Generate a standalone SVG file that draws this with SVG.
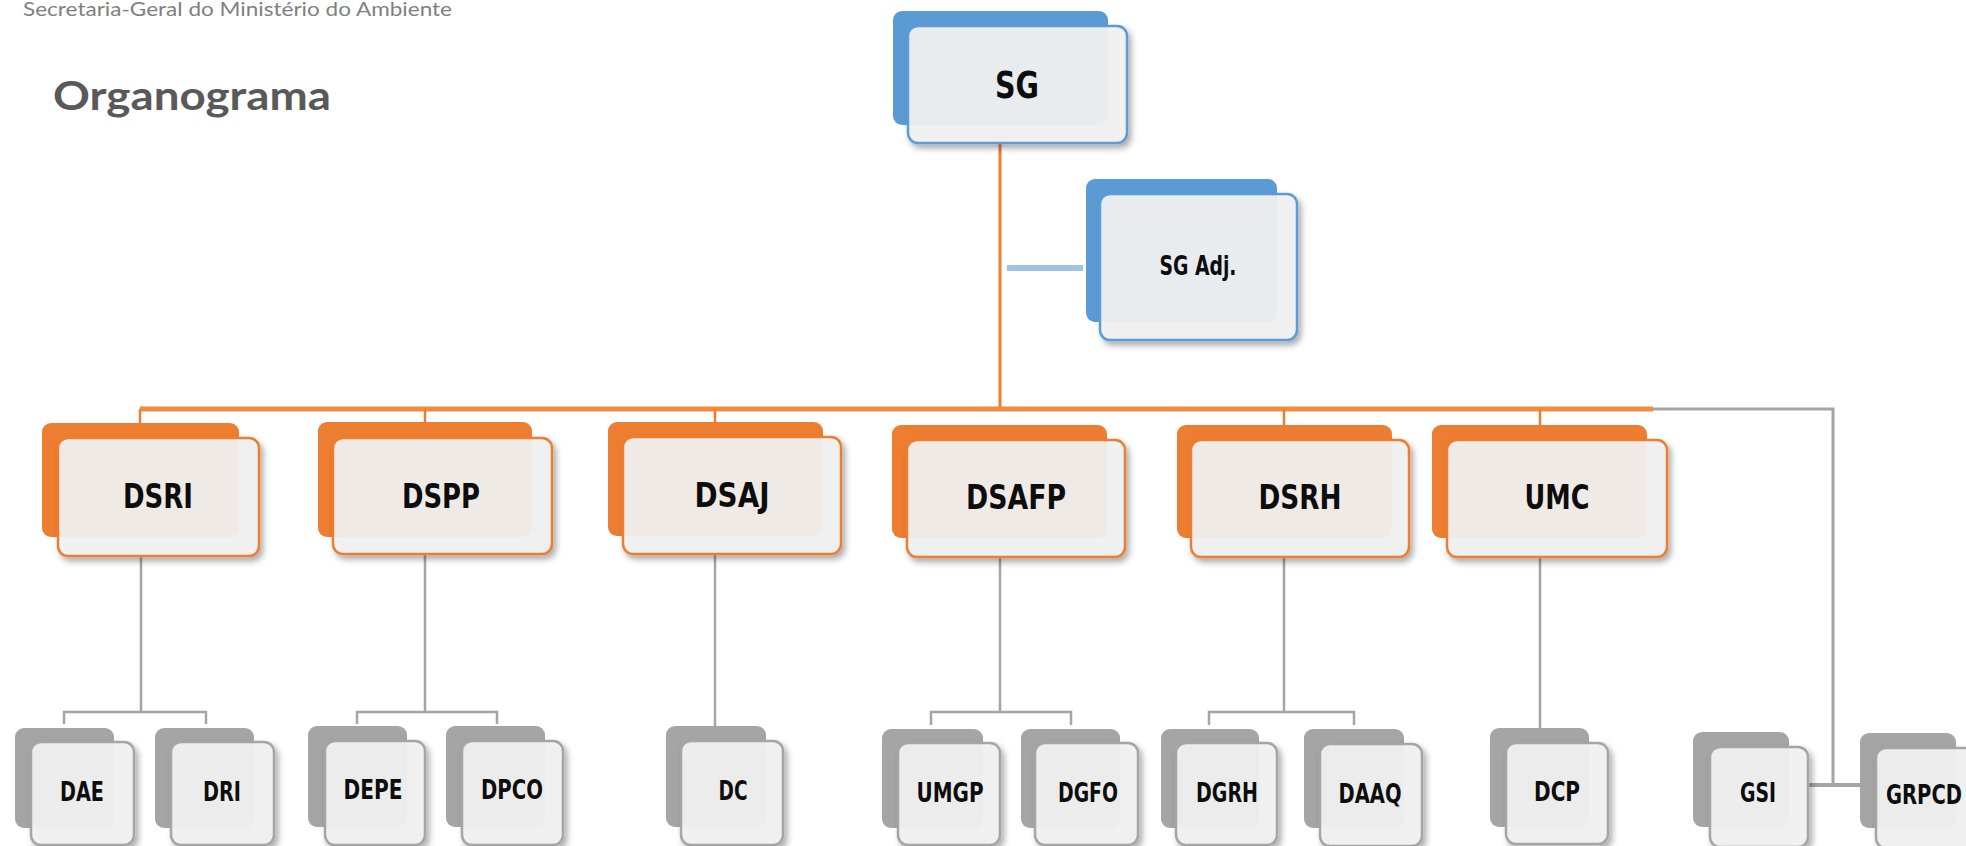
<svg xmlns="http://www.w3.org/2000/svg" width="1966" height="846" viewBox="0 0 1966 846">
<defs>
<filter id="sh" x="-20%" y="-20%" width="150%" height="150%">
<feDropShadow dx="3" dy="4" stdDeviation="3" flood-color="#000" flood-opacity="0.35"/>
</filter>
</defs>
<style>
.bk-b{fill:#5B9BD5}
.bk-o{fill:#ED7D31}
.bk-g{fill:#A5A5A5}
.fr{fill:#F2F2F2;fill-opacity:0.93;stroke-width:2.5;filter:url(#sh)}
.fr-b{stroke:#5B9BD5}
.fr-o{stroke:#ED7D31}
.fr-g{stroke:#A5A5A5}
.lbl{font-family:"DejaVu Sans Condensed","DejaVu Sans",sans-serif;font-stretch:condensed;font-weight:bold;fill:#0D0D0D;text-anchor:middle}
.l1{font-size:38px}
.l2{font-size:34px}
.l3{font-size:26px}
.ln-o{stroke:#ED7D31;fill:none}
.ln-g{stroke:#A5A5A5;fill:none}
.hdr{font-family:Lato,"Open Sans",sans-serif;fill:#7F7F7F;font-size:20px}
.ttl{font-family:Lato,"Open Sans",sans-serif;fill:#595959;font-size:40px;font-weight:bold}
</style>
<rect width="1966" height="846" fill="#FFFFFF"/>
<text class="hdr" x="23" y="16" textLength="429" lengthAdjust="spacingAndGlyphs">Secretaria-Geral do Ministério do Ambiente</text>
<text class="ttl" x="53" y="110" textLength="278" lengthAdjust="spacingAndGlyphs">Organograma</text>

<g id="connectors">
<line class="ln-o" x1="1000" y1="140" x2="1000" y2="409" stroke-width="3"/>
<line x1="1007" y1="268" x2="1083" y2="268" stroke="#9DC3E6" stroke-width="6"/>
<line x1="140" y1="409" x2="1653" y2="409" stroke="#F08C3C" stroke-width="5"/>
<path class="ln-o" stroke-width="2.5" d="M140 409V424M425 409V424M715 409V424M1284 409V426M1540 409V426"/>
<path class="ln-g" stroke-width="3" d="M1653 409H1833V785"/>
<line class="ln-g" x1="1806" y1="785" x2="1878" y2="785" stroke-width="4"/>
<path class="ln-g" stroke-width="2.5" d="M141 556V712M64 724V712H206V724"/>
<path class="ln-g" stroke-width="2.5" d="M425 554V712M357 724V712H497V724"/>
<path class="ln-g" stroke-width="2.5" d="M715 554V726"/>
<path class="ln-g" stroke-width="2.5" d="M1000 557V712M931 725V712H1071V725"/>
<path class="ln-g" stroke-width="2.5" d="M1284 557V712M1209 725V712H1354V725"/>
<path class="ln-g" stroke-width="2.5" d="M1540 557V728"/>
</g>

<g id="node-SG">
<rect class="bk-b" x="893" y="11" width="215" height="114" rx="9"/>
<rect class="fr fr-b" x="908" y="26" width="219" height="117" rx="10"/>
<text class="lbl l1" x="1017" y="98" textLength="44" lengthAdjust="spacingAndGlyphs">SG</text>
</g>
<g id="node-SGAdj">
<rect class="bk-b" x="1086" y="179" width="191" height="143" rx="9"/>
<rect class="fr fr-b" x="1100" y="194" width="197" height="146" rx="10"/>
<text class="lbl l3" x="1198" y="275" textLength="77" lengthAdjust="spacingAndGlyphs">SG Adj.</text>
</g>

<g id="node-DSRI">
<rect class="bk-o" x="42" y="423" width="197" height="114" rx="9"/>
<rect class="fr fr-o" x="58" y="438" width="201" height="118" rx="10"/>
<text class="lbl l2" x="158" y="508" textLength="70" lengthAdjust="spacingAndGlyphs">DSRI</text>
</g>
<g id="node-DSPP">
<rect class="bk-o" x="318" y="422" width="214" height="115" rx="9"/>
<rect class="fr fr-o" x="333" y="438" width="219" height="116" rx="10"/>
<text class="lbl l2" x="441" y="508" textLength="78" lengthAdjust="spacingAndGlyphs">DSPP</text>
</g>
<g id="node-DSAJ">
<rect class="bk-o" x="608" y="422" width="215" height="114" rx="9"/>
<rect class="fr fr-o" x="623" y="437" width="218" height="117" rx="10"/>
<text class="lbl l2" x="732" y="507" textLength="75" lengthAdjust="spacingAndGlyphs">DSAJ</text>
</g>
<g id="node-DSAFP">
<rect class="bk-o" x="892" y="425" width="215" height="113" rx="9"/>
<rect class="fr fr-o" x="907" y="440" width="218" height="117" rx="10"/>
<text class="lbl l2" x="1016" y="509" textLength="100" lengthAdjust="spacingAndGlyphs">DSAFP</text>
</g>
<g id="node-DSRH">
<rect class="bk-o" x="1177" y="425" width="215" height="113" rx="9"/>
<rect class="fr fr-o" x="1191" y="440" width="218" height="117" rx="10"/>
<text class="lbl l2" x="1300" y="509" textLength="83" lengthAdjust="spacingAndGlyphs">DSRH</text>
</g>
<g id="node-UMC">
<rect class="bk-o" x="1432" y="425" width="215" height="113" rx="9"/>
<rect class="fr fr-o" x="1447" y="440" width="220" height="117" rx="10"/>
<text class="lbl l2" x="1557" y="509" textLength="65" lengthAdjust="spacingAndGlyphs">UMC</text>
</g>

<g id="node-DAE">
<rect class="bk-g" x="15" y="728" width="99" height="100" rx="9"/>
<rect class="fr fr-g" x="31" y="742" width="103" height="103" rx="10"/>
<text class="lbl l3" x="82" y="801" textLength="44" lengthAdjust="spacingAndGlyphs">DAE</text>
</g>
<g id="node-DRI">
<rect class="bk-g" x="155" y="728" width="99" height="100" rx="9"/>
<rect class="fr fr-g" x="171" y="742" width="103" height="103" rx="10"/>
<text class="lbl l3" x="222" y="801" textLength="38" lengthAdjust="spacingAndGlyphs">DRI</text>
</g>
<g id="node-DEPE">
<rect class="bk-g" x="308" y="726" width="99" height="101" rx="9"/>
<rect class="fr fr-g" x="325" y="741" width="100" height="104" rx="10"/>
<text class="lbl l3" x="373" y="799" textLength="59" lengthAdjust="spacingAndGlyphs">DEPE</text>
</g>
<g id="node-DPCO">
<rect class="bk-g" x="446" y="726" width="99" height="101" rx="9"/>
<rect class="fr fr-g" x="462" y="741" width="101" height="104" rx="10"/>
<text class="lbl l3" x="512" y="799" textLength="62" lengthAdjust="spacingAndGlyphs">DPCO</text>
</g>
<g id="node-DC">
<rect class="bk-g" x="666" y="726" width="100" height="101" rx="9"/>
<rect class="fr fr-g" x="681" y="741" width="102" height="104" rx="10"/>
<text class="lbl l3" x="733" y="800" textLength="29" lengthAdjust="spacingAndGlyphs">DC</text>
</g>
<g id="node-UMGP">
<rect class="bk-g" x="882" y="729" width="101" height="99" rx="9"/>
<rect class="fr fr-g" x="898" y="743" width="102" height="102" rx="10"/>
<text class="lbl l3" x="950" y="802" textLength="67" lengthAdjust="spacingAndGlyphs">UMGP</text>
</g>
<g id="node-DGFO">
<rect class="bk-g" x="1021" y="729" width="99" height="99" rx="9"/>
<rect class="fr fr-g" x="1035" y="743" width="103" height="102" rx="10"/>
<text class="lbl l3" x="1088" y="802" textLength="60" lengthAdjust="spacingAndGlyphs">DGFO</text>
</g>
<g id="node-DGRH">
<rect class="bk-g" x="1161" y="729" width="98" height="99" rx="9"/>
<rect class="fr fr-g" x="1176" y="743" width="101" height="102" rx="10"/>
<text class="lbl l3" x="1227" y="802" textLength="62" lengthAdjust="spacingAndGlyphs">DGRH</text>
</g>
<g id="node-DAAQ">
<rect class="bk-g" x="1304" y="729" width="100" height="99" rx="9"/>
<rect class="fr fr-g" x="1320" y="744" width="102" height="102" rx="10"/>
<text class="lbl l3" x="1370" y="803" textLength="63" lengthAdjust="spacingAndGlyphs">DAAQ</text>
</g>
<g id="node-DCP">
<rect class="bk-g" x="1490" y="728" width="99" height="99" rx="9"/>
<rect class="fr fr-g" x="1506" y="743" width="102" height="101" rx="10"/>
<text class="lbl l3" x="1557" y="801" textLength="46" lengthAdjust="spacingAndGlyphs">DCP</text>
</g>
<g id="node-GSI">
<rect class="bk-g" x="1693" y="732" width="96" height="95" rx="9"/>
<rect class="fr fr-g" x="1710" y="747" width="98" height="100" rx="10"/>
<text class="lbl l3" x="1758" y="802" textLength="36" lengthAdjust="spacingAndGlyphs">GSI</text>
</g>
<g id="node-GRPCD">
<rect class="bk-g" x="1860" y="733" width="96" height="95" rx="9"/>
<rect class="fr fr-g" x="1876" y="748" width="100" height="100" rx="10"/>
<text class="lbl l3" x="1924" y="804" textLength="76" lengthAdjust="spacingAndGlyphs">GRPCD</text>
</g>
</svg>
